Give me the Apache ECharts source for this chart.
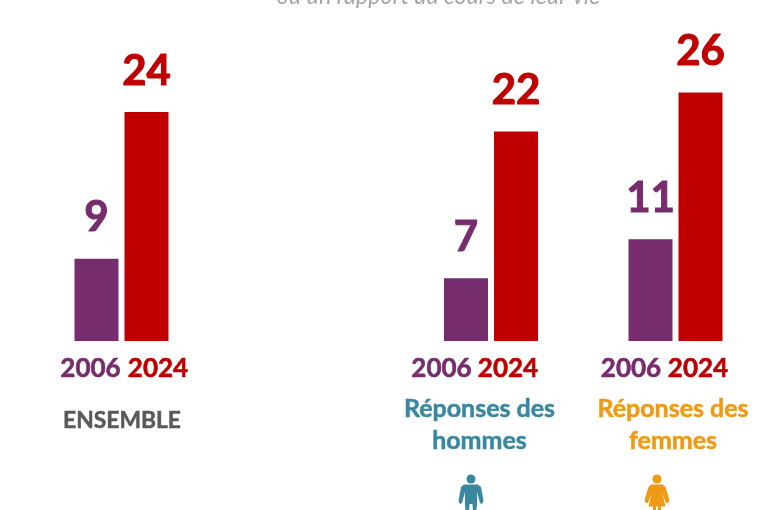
<!DOCTYPE html>
<html><head><meta charset="utf-8">
<style>html,body{margin:0;padding:0;background:#fff}#c{width:757px;height:510px}</style>
<script src="https://cdn.jsdelivr.net/npm/echarts@6/dist/echarts.min.js"></script>
</head><body><div id="c"></div>
<script>
const years = ['2006', '2024'];
const ensemble = [9, 24];
const hommes = [7, 22];
const femmes = [11, 26];
const yearColors = ['#772C6E', '#C00000'];
const subtitle = 'ou un rapport au cours de leur vie';
const groupEnsemble = 'ENSEMBLE';
const groupHommes = 'Réponses des\nhommes';
const groupFemmes = 'Réponses des\nfemmes';
const FONT = 'Lato, "Open Sans", sans-serif';
const TEAL = '#3A87A0', ORANGE = '#EF9A17', GREY = '#595959';

const panels = [
  {vals: ensemble, left: 71.5, shift: [-6, 11.5]},
  {vals: hommes, left: 441, shift: [-24.5, -8]},
  {vals: femmes, left: 625.5, shift: [-19.5, -2.5]}
];
const pad = s => s < 0 ? [0, -2 * s, 0, 0] : [0, 0, 0, 2 * s];

const manBody = [[464,484.5],[478,484.5],[481,487],[483.5,501],[482,504],[480,503],[477,492],[477,505],[476,512],[473,512],[472.5,504],[469.5,504],[469,512],[465.5,512],[465,505],[465,492],[462,503],[460,504],[458.5,501],[461,487]];
const womanBody = [[651,484.5],[663,484.5],[665.5,487],[669.5,500],[668,503],[666,503],[662.5,493],[665.5,506.5],[661,506.5],[661,512],[658,512],[658,506.5],[656,506.5],[656,512],[653,512],[653,506.5],[648.5,506.5],[651.5,493],[648,503],[646,503],[644.5,500],[648.5,487]];

const option = {
  backgroundColor: '#fff',
  animation: false,
  title: [
    {text: subtitle, left: 433.5, top: -20, textAlign: 'center',
     textStyle: {fontFamily: FONT, fontSize: 23.3, fontStyle: 'italic', fontWeight: 'normal', color: '#A6A6A6'}},
    {text: groupEnsemble, left: 117, top: 404, textAlign: 'center',
     textStyle: {fontFamily: FONT, fontSize: 22.8, fontWeight: 'bold', color: GREY, textBorderColor: GREY, textBorderWidth: 0.5}},
    {text: groupHommes, left: 474.5, top: 388, textAlign: 'center',
     textStyle: {fontFamily: FONT, fontSize: 25, fontWeight: 'bold', color: TEAL, lineHeight: 32, textBorderColor: TEAL, textBorderWidth: 0.5}},
    {text: groupFemmes, left: 668, top: 388, textAlign: 'center',
     textStyle: {fontFamily: FONT, fontSize: 25, fontWeight: 'bold', color: ORANGE, lineHeight: 32, textBorderColor: ORANGE, textBorderWidth: 0.5}}
  ],
  grid: panels.map(p => ({left: p.left, width: 100, top: 21, height: 320})),
  xAxis: panels.map((p, i) => ({
    type: 'category', gridIndex: i,
    data: years.map((y, k) => ({value: y, textStyle: {color: yearColors[k], padding: pad(p.shift[k]), textBorderColor: yearColors[k], textBorderWidth: 0.6}})),
    axisLine: {show: false}, axisTick: {show: false},
    axisLabel: {interval: 0, hideOverlap: false, margin: 15, fontFamily: FONT, fontSize: 26, fontWeight: 'bold'}
  })),
  yAxis: panels.map((p, i) => ({
    type: 'value', gridIndex: i, min: 0.6, max: 33.3, show: false, splitLine: {show: false}
  })),
  series: panels.map((p, i) => ({
    type: 'bar', xAxisIndex: i, yAxisIndex: i, barWidth: 44,
    data: p.vals.map((v, k) => ({value: v, itemStyle: {color: yearColors[k]},
      label: {color: yearColors[k], textBorderColor: yearColors[k], textBorderWidth: 1}})),
    label: {show: true, position: 'top', distance: 20, fontFamily: FONT, fontSize: 42, fontWeight: 'bold'}
  })),
  graphic: [
    {type: 'circle', shape: {cx: 471, cy: 479, r: 4.5}, style: {fill: TEAL}},
    {type: 'polygon', shape: {points: manBody}, style: {fill: TEAL}},
    {type: 'circle', shape: {cx: 657, cy: 479, r: 4.5}, style: {fill: ORANGE}},
    {type: 'polygon', shape: {points: womanBody}, style: {fill: ORANGE}}
  ]
};
echarts.init(document.getElementById('c'), null, {renderer: 'canvas'}).setOption(option);
</script></body></html>
